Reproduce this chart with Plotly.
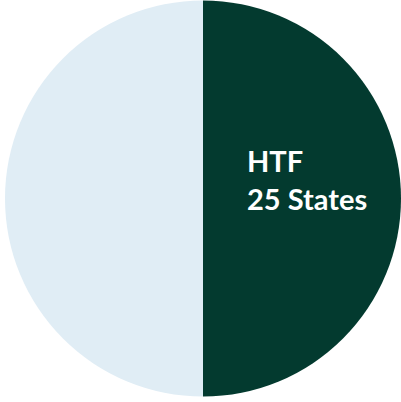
import plotly.graph_objects as go

labels = ["HTF", "Other"]
values = [25, 25]
label_lines = ["HTF", "25 States"]
colors = ["#033a2f", "#e0edf5"]

fig = go.Figure(go.Pie(
    labels=labels,
    values=values,
    textinfo="none",
    marker=dict(colors=colors, line=dict(width=0)),
    sort=False,
    direction="clockwise",
    rotation=0,
    hole=0,
    showlegend=False,
    hoverinfo="label+value",
    domain=dict(x=[5/401, 1], y=[5/402, 1]),
))
fig.add_annotation(
    x=245/401, y=1 - 180/402, xref="paper", yref="paper",
    xanchor="left", yanchor="middle", align="left",
    text="<b>" + "<br>".join(label_lines) + "</b>",
    showarrow=False,
    font=dict(color="white", size=29, family="Lato"),
)
fig.update_layout(
    width=401, height=402,
    margin=dict(l=0, r=0, t=0, b=0),
    paper_bgcolor="white",
    plot_bgcolor="white",
)
fig.write_html("out.html", config={"displayModeBar": False},
               post_script="document.body.style.margin='0';")
